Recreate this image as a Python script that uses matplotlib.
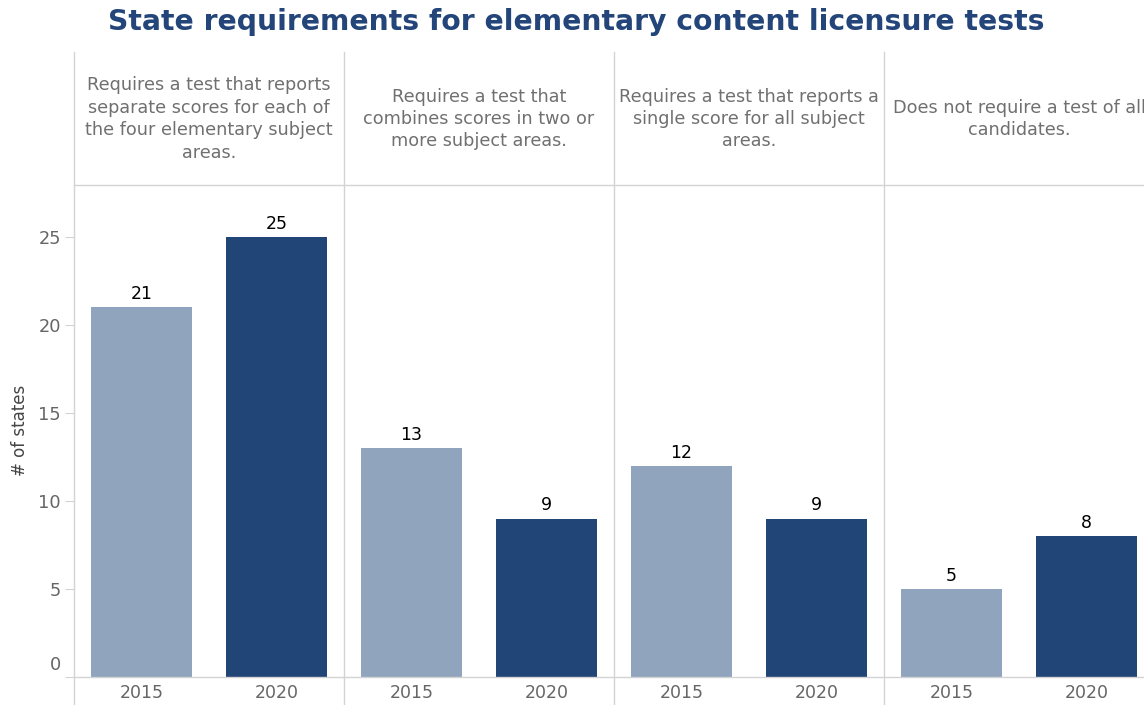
import matplotlib.pyplot as plt
from matplotlib.lines import Line2D
from matplotlib.transforms import ScaledTranslation

categories = [
    "Requires a test that reports\nseparate scores for each of\nthe four elementary subject\nareas.",
    "Requires a test that\ncombines scores in two or\nmore subject areas.",
    "Requires a test that reports a\nsingle score for all subject\nareas.",
    "Does not require a test of all\ncandidates.",
]
years = ["2015", "2020"]
states_2015 = [21, 13, 12, 5]
states_2020 = [25, 9, 9, 8]

light = "#91a4bd"
dark = "#224577"
grid = "#d3d3d3"

W, H = 1144, 705
fig = plt.figure(figsize=(W / 100, H / 100), dpi=100)


def fx(px):
    return px / W


def fy(py):
    return 1 - py / H


plot_top, plot_bottom = 185, 677
panel_w = 270
left0 = 74
ymax = (plot_bottom - plot_top) / 17.6

for i, cat in enumerate(categories):
    x0 = left0 + panel_w * i
    ax = fig.add_axes([fx(x0), fy(plot_bottom), panel_w / W, (plot_bottom - plot_top) / H])
    vals = [states_2015[i], states_2020[i]]
    bars = ax.bar([0, 1], vals, width=0.75, color=[light, dark])
    for b, v in zip(bars, vals):
        ax.annotate(str(v), (b.get_x() + b.get_width() / 2, v), xytext=(0, 3),
                    textcoords="offset points", ha="center", va="bottom",
                    fontsize=12.5, color="black")
    ax.set_xlim(-0.5, 1.5)
    ax.set_ylim(0, ymax)
    ax.set_xticks([0, 1])
    ax.set_xticklabels(years, fontsize=12.5, color="#666666")
    ax.tick_params(axis="x", length=0, pad=5)
    for s in ax.spines.values():
        s.set_visible(False)
    if i == 0:
        ax.set_yticks([0, 5, 10, 15, 20, 25])
        ax.tick_params(axis="y", length=6.5, color=grid, labelsize=12.8,
                       labelcolor="#666666", pad=3)
        # keep the zero label inside the plot
        lab0 = ax.get_yticklabels()[0]
        lab0.set_transform(lab0.get_transform() +
                           ScaledTranslation(0, 10 / 72, fig.dpi_scale_trans))
    else:
        ax.set_yticks([])
    ax.patch.set_visible(False)

    # header text
    fig.text(fx(x0 + panel_w / 2), fy(119), cat, ha="center", va="center",
             fontsize=12.7, color="#707070", linespacing=1.32)

# panel frame lines
for i in range(4):
    x = left0 + panel_w * i
    fig.add_artist(Line2D([fx(x), fx(x)], [fy(52), fy(705)],
                          transform=fig.transFigure, color=grid, lw=1))
fig.add_artist(Line2D([fx(left0), 1], [fy(plot_top), fy(plot_top)],
                      transform=fig.transFigure, color=grid, lw=1))
fig.add_artist(Line2D([fx(left0), 1], [fy(plot_bottom), fy(plot_bottom)],
                      transform=fig.transFigure, color=grid, lw=1))

fig.text(fx(20), fy(430), "# of states", rotation=90, ha="center", va="center",
         fontsize=12, color="#444444")
fig.text(fx(576), fy(22), "State requirements for elementary content licensure tests",
         ha="center", va="center", fontsize=20.3, fontweight="bold", color="#23457a")

fig.savefig("out.png", dpi=100)
